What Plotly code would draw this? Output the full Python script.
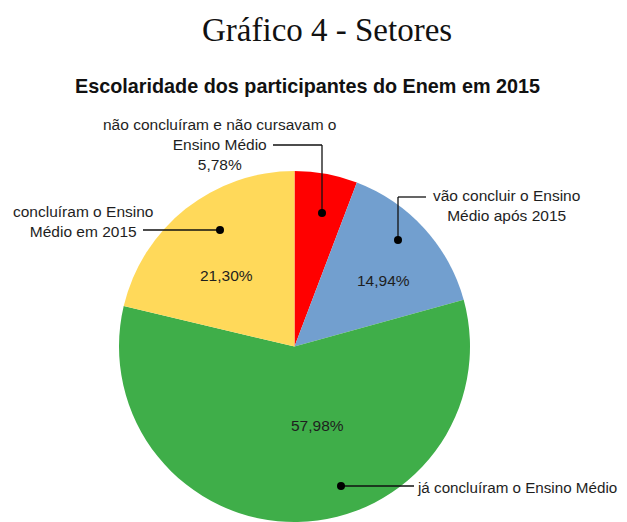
import plotly.graph_objects as go

# The page body adds an 8px offset; the figure extends to the window's right/bottom edges.
OFF = 8
W, H = 627 - OFF, 522 - OFF

categories = [
    "não concluíram e não cursavam o Ensino Médio",
    "vão concluir o Ensino Médio após 2015",
    "já concluíram o Ensino Médio",
    "concluíram o Ensino Médio em 2015",
]
values = [5.78, 14.94, 57.98, 21.30]
colors = ["#ff0000", "#729fcf", "#3fae49", "#ffd95a"]

title_text = "Gráfico 4 - Setores"
subtitle_text = "Escolaridade dos participantes do Enem em 2015"


def fmt(v):
    return f"{v:.2f}".replace(".", ",") + "%"


def px(x):
    return (x - OFF) / W


def py(y):
    return 1 - (y - OFF) / H


fig = go.Figure()
fig.add_trace(go.Pie(
    labels=categories,
    values=values,
    sort=False,
    direction="clockwise",
    rotation=0,
    marker=dict(colors=colors, line=dict(width=0)),
    textinfo="none",
    hoverinfo="label+percent",
    showlegend=False,
    domain=dict(x=[px(118.5), px(470.5)], y=[0, py(171)]),
))

txt_font = dict(family="Liberation Sans, Arial, sans-serif", size=15.5, color="#1e1e1e")
ann = []
# Titles
ann.append(dict(x=px(327), y=py(30), text=title_text, showarrow=False,
                font=dict(family="Liberation Serif, DejaVu Serif, serif", size=33, color="#111111"),
                xanchor="center", yanchor="middle"))
ann.append(dict(x=px(307), y=py(86), text="<b>" + subtitle_text + "</b>", showarrow=False,
                font=dict(family="Liberation Sans, Arial, sans-serif", size=19.8, color="#111111"),
                xanchor="center", yanchor="middle"))

# Category labels (multi-line)
ann.append(dict(x=px(219), y=py(145), text="não concluíram e não cursavam o<br>Ensino Médio<br>" + fmt(values[0]),
                showarrow=False, font=txt_font, align="center", xanchor="center", yanchor="middle"))
ann.append(dict(x=px(506), y=py(206), text="vão concluir o Ensino<br>Médio após 2015",
                showarrow=False, font=txt_font, align="center", xanchor="center", yanchor="middle"))
ann.append(dict(x=px(415), y=py(487), text=categories[2],
                showarrow=False, font=dict(txt_font, size=15.2), align="left", xanchor="left", yanchor="middle"))
ann.append(dict(x=px(83), y=py(221), text="concluíram o Ensino<br>Médio em 2015",
                showarrow=False, font=txt_font, align="center", xanchor="center", yanchor="middle"))

# Percent labels inside
for (x, y), v in zip([(383, 280), (317, 425), (226, 275)], values[1:]):
    ann.append(dict(x=px(x), y=py(y), text=fmt(v), showarrow=False, font=txt_font,
                    xanchor="center", yanchor="middle"))

shapes = []
line_style = dict(color="#111111", width=1.3)


def seg(x0, y0, x1, y1):
    shapes.append(dict(type="line", xref="paper", yref="paper",
                       x0=px(x0), y0=py(y0), x1=px(x1), y1=py(y1), line=line_style))


def dot(x, y, r=4):
    shapes.append(dict(type="circle", xref="paper", yref="paper",
                       x0=px(x - r), x1=px(x + r), y0=py(y + r), y1=py(y - r),
                       fillcolor="#000000", line=dict(width=0)))


# red callout
seg(273, 145, 322, 145)
seg(322, 145, 322, 213)
dot(322, 213)
# blue callout
seg(426, 197, 398, 197)
seg(398, 197, 398, 240)
dot(398, 240)
# green callout
seg(341, 486, 414, 486)
dot(341, 486)
# yellow callout
seg(143, 230, 220, 230)
dot(220, 230)

fig.update_layout(
    width=W, height=H,
    margin=dict(l=0, r=0, t=0, b=0),
    paper_bgcolor="white",
    plot_bgcolor="white",
    annotations=ann,
    shapes=shapes,
    separators=",.",
)

fig.write_html("out.html")
